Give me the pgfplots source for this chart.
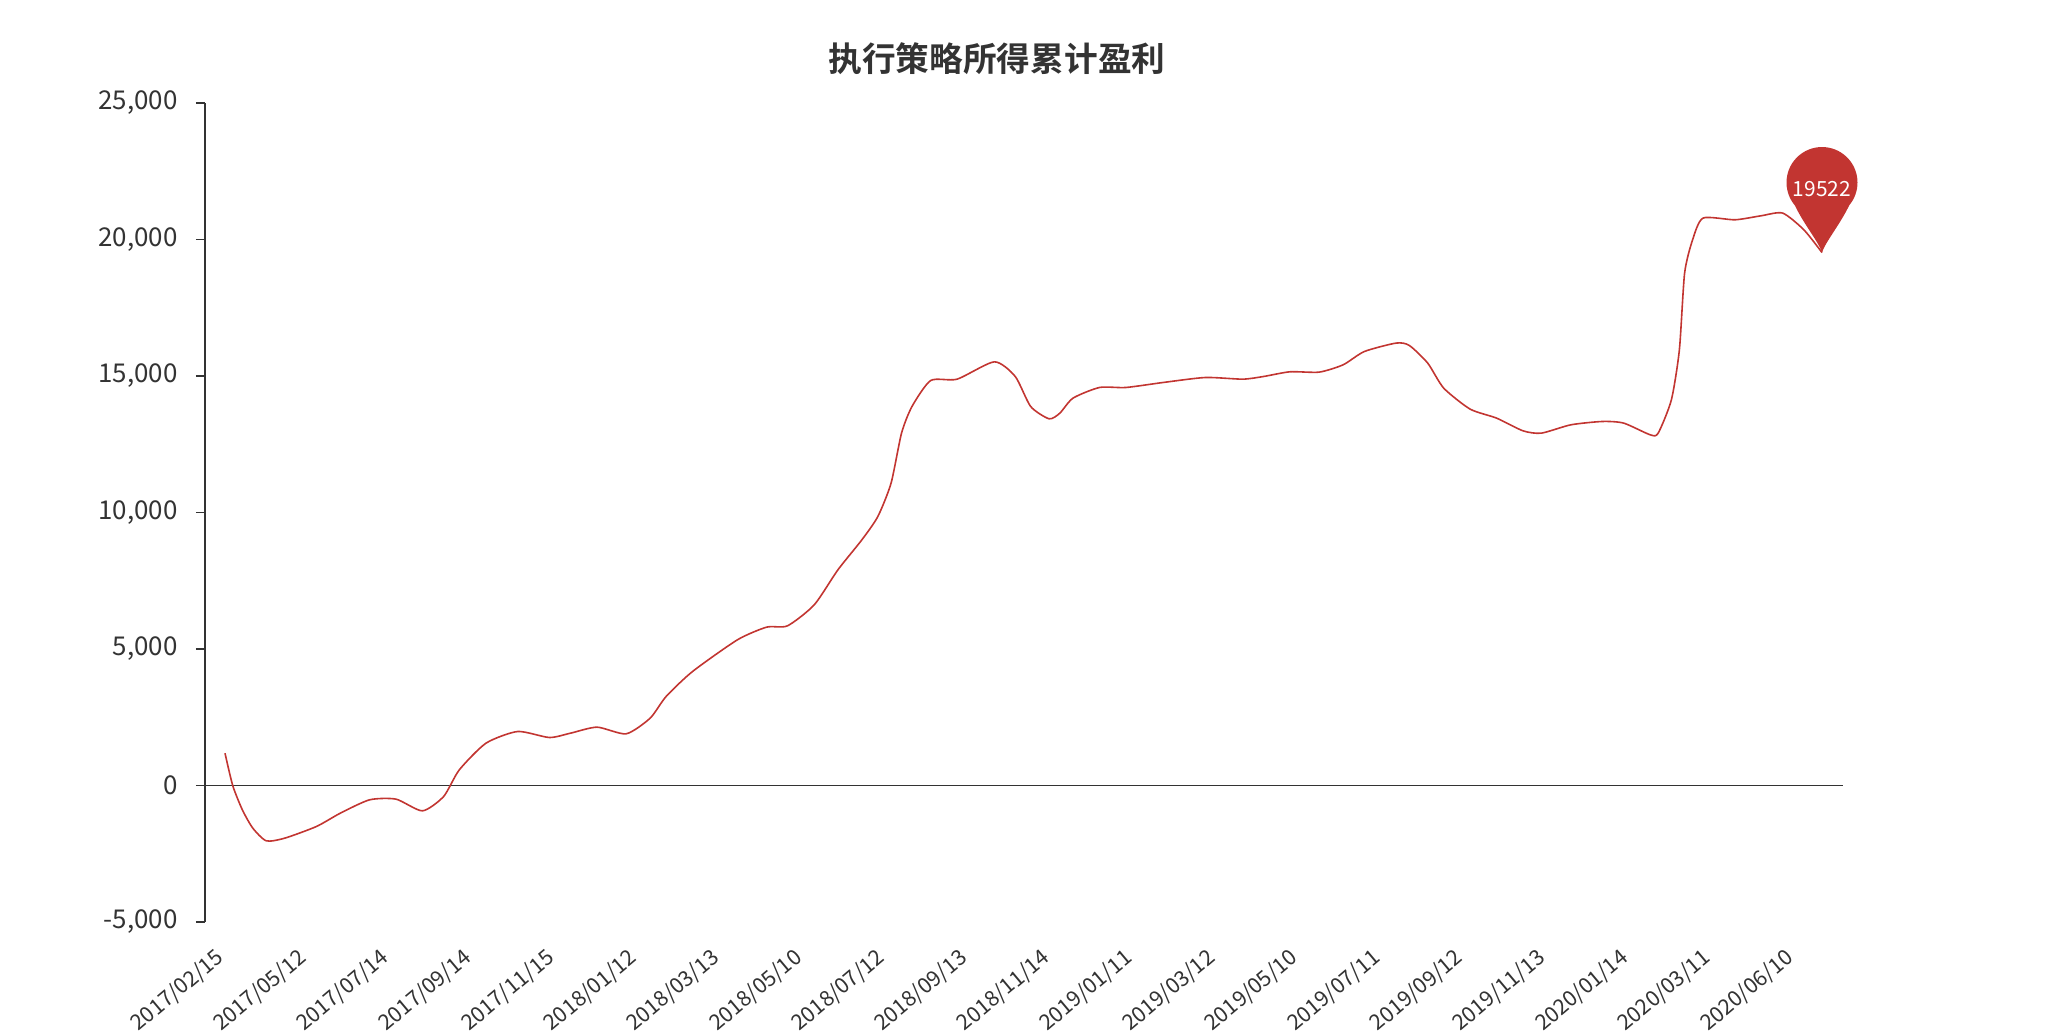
\documentclass[border=0pt]{standalone}
\usepackage{fontspec}
\setmainfont{Noto Sans CJK SC}[BoldFont={Noto Sans CJK SC Bold}]
\usepackage{pgfplots}
\pgfplotsset{compat=1.18}

\definecolor{linered}{HTML}{C23531}
\definecolor{axisgray}{HTML}{333333}

% ECharts style "pin" marker, tip at the data point
\pgfdeclareplotmark{pin}{%
  \pgfpathmoveto{\pgfpointorigin}%
  \pgfpathcurveto{\pgfpoint{-1.5bp}{5bp}}{\pgfpoint{-9bp}{14bp}}{\pgfpoint{-13.6bp}{23.6bp}}%
  \pgfpatharc{220}{-40}{17.75bp}%
  \pgfpathcurveto{\pgfpoint{9bp}{14bp}}{\pgfpoint{1.5bp}{5bp}}{\pgfpointorigin}%
  \pgfpathclose
  \pgfusepathqfill
}

\begin{document}
\begin{tikzpicture}
\begin{axis}[
  scale only axis,
  width=819bp, height=409.5bp,
  xmin=-0.7265, xmax=58.763,
  ymin=-5000, ymax=25000,
  axis x line*=bottom, axis y line*=left,
  x axis line style={draw=none},
  y axis line style={axisgray, line width=0.75bp},
  xtick={0,3,...,57},
  xticklabels={2017/02/15,2017/05/12,2017/07/14,2017/09/14,2017/11/15,2018/01/12,2018/03/13,2018/05/10,2018/07/12,2018/09/13,2018/11/14,2019/01/11,2019/03/12,2019/05/10,2019/07/11,2019/09/12,2019/11/13,2020/01/14,2020/03/11,2020/06/10},
  xtick style={draw=none},
  xticklabel style={xshift=-5.5bp, yshift=-7.5bp, rotate=40, anchor=north east, inner sep=0pt, font=\fontsize{10.8}{12}\selectfont, text=axisgray},
  ytick={-5000,0,5000,10000,15000,20000,25000},
  scaled y ticks=false,
  tick align=outside,
  major tick length=4.5bp,
  ytick style={axisgray, line width=0.75bp},
  yticklabel style={anchor=east, inner sep=0pt, xshift=-9bp, font=\fontsize{13}{15}\selectfont, text=axisgray,
    /pgf/number format/fixed, /pgf/number format/1000 sep={,}, /pgf/number format/assume math mode=true},
  clip=false,
]
\draw[draw=none] (rel axis cs:-0.12515,-0.12454) rectangle (rel axis cs:1.12515,1.12576);
\draw[axisgray, line width=0.75bp] ({rel axis cs:0,0} |- {axis cs:0,0}) -- ({rel axis cs:1,0} |- {axis cs:0,0});
\node[font=\fontsize{16.9}{19}\selectfont\bfseries, text=axisgray] at (rel axis cs:0.4835,1) [yshift=22bp] {执行策略所得累计盈利};

\addplot[linered, line width=0.8bp, smooth, tension=0.4, no markers] coordinates {
(0,1184) (0.28,0) (0.63,-891) (1.01,-1563) (1.50,-2027) (2.17,-1929)
(3.32,-1502) (4.19,-1013) (5.25,-525) (6.21,-500) (7.17,-928) (7.94,-403)
(8.51,574) (9.48,1551) (10.63,1978) (11.78,1758) (12.55,1917) (13.51,2137)
(14.57,1893) (15.44,2466) (16.02,3260) (16.98,4176) (18.61,5336) (19.67,5800)
(20.43,5849) (21.40,6618) (22.26,7900) (23.13,8999) (23.71,9853) (24.19,11074)
(24.57,12906) (24.95,13883) (25.63,14835) (26.59,14884) (27.94,15519) (28.70,14982)
(29.26,13883) (29.93,13432) (30.32,13640) (30.80,14190) (31.76,14579) (32.72,14579)
(34.07,14762) (35.61,14945) (36.96,14884) (37.72,14982) (38.68,15154) (39.74,15142)
(40.61,15411) (41.38,15897) (42.53,16205) (43.01,16120) (43.68,15472) (44.26,14557)
(45.22,13787) (46.18,13457) (47.14,12992) (47.81,12907) (48.88,13212) (50.03,13334)
(50.80,13273) (51.76,12846) (52.05,12907) (52.53,14128) (52.82,15960) (53.01,18769)
(53.30,19989) (53.68,20784) (54.84,20722) (55.79,20869) (56.57,20967) (57.34,20356)
(58.00,19522)
};

\addplot[only marks, mark=pin, mark options={fill=linered, draw=none},
  point meta=y,
  nodes near coords={\pgfmathprintnumber[fixed,precision=0,1000 sep={},assume math mode=true]{\pgfplotspointmeta}},
  nodes near coords style={anchor=center, yshift=31.5bp, text=white, inner sep=0pt, font=\fontsize{10.5}{12}\selectfont},
] coordinates {(58,19522)};
\end{axis}
\end{tikzpicture}
\end{document}
